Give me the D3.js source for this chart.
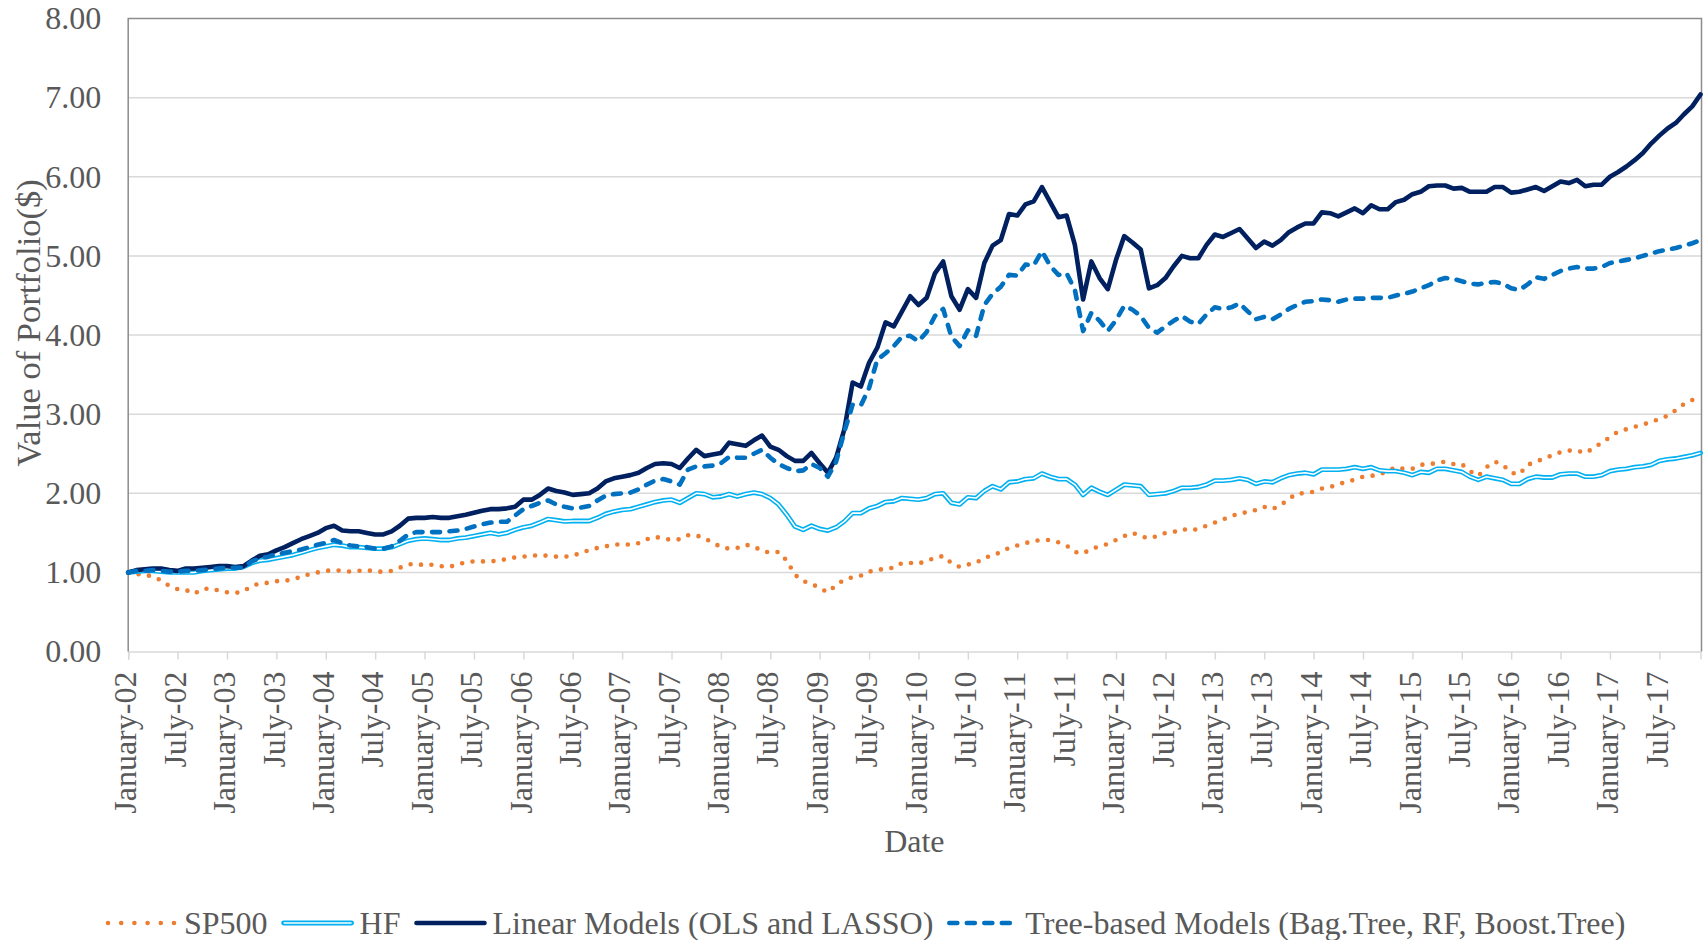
<!DOCTYPE html>
<html>
<head>
<meta charset="utf-8">
<script src="https://cdn.jsdelivr.net/npm/d3@7"></script>
<style>
  body { margin: 0; background: #fff; }
  text { font-family: "Liberation Serif", "Times New Roman", serif; }
</style>
</head>
<body>
<div id="chart"></div>
<script>
// monthly portfolio values, Jan 2002 .. Dec 2017 (192 months)
const sp500 = [
  1.00,0.98,0.97,0.95,0.90,0.83,0.79,0.78,0.73,0.79,
  0.80,0.77,0.75,0.74,0.76,0.83,0.86,0.87,0.89,0.89,
  0.92,0.94,0.98,1.00,1.02,1.03,1.02,1.01,1.02,1.03,
  1.01,1.01,1.02,1.06,1.10,1.11,1.09,1.10,1.08,1.07,
  1.10,1.13,1.14,1.14,1.14,1.15,1.17,1.19,1.20,1.21,
  1.22,1.21,1.20,1.20,1.21,1.25,1.28,1.31,1.33,1.35,
  1.36,1.35,1.37,1.42,1.45,1.43,1.41,1.42,1.47,1.47,
  1.43,1.38,1.32,1.30,1.31,1.35,1.33,1.27,1.25,1.26,
  1.15,0.97,0.89,0.86,0.80,0.75,0.84,0.91,0.94,0.96,
  1.01,1.03,1.05,1.06,1.12,1.12,1.11,1.15,1.18,1.21,
  1.12,1.07,1.10,1.12,1.19,1.21,1.26,1.31,1.34,1.37,
  1.40,1.41,1.41,1.38,1.34,1.26,1.24,1.30,1.33,1.36,
  1.41,1.46,1.50,1.46,1.43,1.46,1.50,1.51,1.55,1.53,
  1.55,1.59,1.63,1.67,1.71,1.75,1.76,1.79,1.83,1.80,
  1.85,1.93,2.00,2.00,2.02,2.06,2.08,2.11,2.15,2.17,
  2.21,2.22,2.24,2.28,2.33,2.31,2.31,2.36,2.37,2.38,
  2.40,2.37,2.37,2.28,2.22,2.33,2.40,2.36,2.26,2.24,
  2.36,2.40,2.44,2.48,2.52,2.54,2.54,2.51,2.57,2.64,
  2.71,2.78,2.81,2.84,2.87,2.90,2.94,2.98,3.05,3.13,
  3.18,3.23
];
const hf = [
  1.00,1.01,1.02,1.02,1.01,1.00,1.00,1.00,1.00,1.02,
  1.03,1.04,1.05,1.05,1.07,1.12,1.15,1.16,1.18,1.20,
  1.22,1.25,1.28,1.31,1.33,1.35,1.34,1.32,1.32,1.31,
  1.30,1.30,1.32,1.36,1.40,1.42,1.43,1.42,1.41,1.41,
  1.43,1.44,1.46,1.48,1.50,1.48,1.50,1.54,1.57,1.59,
  1.63,1.675,1.66,1.645,1.65,1.65,1.65,1.69,1.74,1.77,
  1.79,1.80,1.83,1.86,1.89,1.91,1.92,1.88,1.94,2.00,
  1.99,1.95,1.96,1.99,1.96,1.99,2.01,1.99,1.94,1.86,
  1.73,1.58,1.54,1.59,1.55,1.53,1.57,1.645,1.75,1.75,
  1.81,1.84,1.89,1.90,1.94,1.93,1.92,1.94,1.99,2.00,
  1.88,1.86,1.95,1.94,2.03,2.09,2.05,2.14,2.15,2.18,
  2.19,2.25,2.21,2.18,2.18,2.11,1.98,2.07,2.02,1.98,
  2.045,2.11,2.10,2.09,1.98,1.99,2.00,2.03,2.07,2.07,
  2.08,2.11,2.16,2.16,2.17,2.19,2.17,2.12,2.15,2.14,
  2.19,2.23,2.25,2.26,2.24,2.30,2.30,2.30,2.31,2.33,
  2.31,2.33,2.29,2.28,2.28,2.26,2.23,2.27,2.26,2.31,
  2.31,2.29,2.27,2.21,2.17,2.21,2.19,2.17,2.12,2.12,
  2.18,2.21,2.20,2.20,2.24,2.25,2.25,2.21,2.21,2.23,
  2.28,2.30,2.31,2.33,2.34,2.36,2.41,2.43,2.44,2.46,
  2.48,2.51
];
const linear = [
  1.00,1.03,1.04,1.05,1.05,1.03,1.02,1.05,1.05,1.06,
  1.07,1.08,1.08,1.07,1.08,1.15,1.21,1.23,1.28,1.32,
  1.37,1.42,1.46,1.50,1.56,1.59,1.53,1.52,1.52,1.50,
  1.48,1.48,1.52,1.59,1.68,1.69,1.69,1.70,1.69,1.69,
  1.71,1.73,1.755,1.78,1.80,1.80,1.81,1.83,1.92,1.92,
  1.98,2.06,2.03,2.01,1.98,1.99,2.00,2.06,2.15,2.19,
  2.21,2.23,2.26,2.32,2.37,2.38,2.37,2.32,2.44,2.55,
  2.47,2.49,2.51,2.64,2.62,2.60,2.67,2.73,2.59,2.55,
  2.47,2.41,2.41,2.51,2.38,2.26,2.45,2.81,3.40,3.35,
  3.65,3.84,4.16,4.11,4.30,4.49,4.38,4.47,4.78,4.93,
  4.49,4.32,4.58,4.47,4.91,5.13,5.20,5.53,5.51,5.65,
  5.69,5.87,5.68,5.49,5.51,5.14,4.45,4.93,4.72,4.58,
  4.95,5.25,5.17,5.08,4.59,4.63,4.72,4.87,5.00,4.97,
  4.97,5.14,5.27,5.24,5.29,5.34,5.22,5.10,5.18,5.13,
  5.20,5.30,5.36,5.41,5.41,5.55,5.54,5.50,5.55,5.60,
  5.54,5.64,5.59,5.59,5.68,5.71,5.78,5.81,5.88,5.89,
  5.89,5.85,5.86,5.81,5.81,5.81,5.87,5.87,5.80,5.81,
  5.84,5.87,5.82,5.88,5.94,5.92,5.96,5.88,5.90,5.90,
  6.00,6.06,6.13,6.21,6.30,6.42,6.52,6.61,6.68,6.79,
  6.89,7.04
];
const tree = [
  1.00,1.02,1.02,1.03,1.02,1.01,1.01,1.02,1.02,1.03,
  1.04,1.05,1.06,1.06,1.06,1.14,1.18,1.20,1.23,1.25,
  1.27,1.29,1.32,1.35,1.375,1.41,1.37,1.34,1.33,1.32,
  1.30,1.30,1.33,1.40,1.48,1.51,1.51,1.51,1.51,1.52,
  1.53,1.55,1.58,1.61,1.63,1.64,1.64,1.72,1.80,1.84,
  1.88,1.91,1.86,1.83,1.81,1.82,1.84,1.91,1.97,1.99,
  2.00,2.01,2.05,2.11,2.16,2.18,2.15,2.11,2.30,2.34,
  2.34,2.35,2.38,2.46,2.45,2.45,2.50,2.55,2.45,2.37,
  2.32,2.28,2.29,2.37,2.32,2.21,2.40,2.78,3.12,3.11,
  3.33,3.69,3.77,3.86,3.98,3.99,3.92,4.04,4.24,4.33,
  3.98,3.86,4.06,3.99,4.38,4.52,4.61,4.76,4.75,4.89,
  4.88,5.06,4.875,4.76,4.78,4.57,4.05,4.28,4.18,4.05,
  4.19,4.37,4.32,4.24,4.09,4.03,4.11,4.18,4.24,4.17,
  4.14,4.26,4.35,4.33,4.35,4.40,4.30,4.20,4.23,4.20,
  4.26,4.33,4.38,4.42,4.43,4.45,4.44,4.42,4.45,4.46,
  4.46,4.47,4.47,4.47,4.50,4.52,4.55,4.59,4.63,4.69,
  4.72,4.71,4.68,4.65,4.64,4.66,4.67,4.65,4.59,4.57,
  4.64,4.73,4.71,4.76,4.81,4.84,4.86,4.84,4.84,4.86,
  4.91,4.93,4.95,4.97,5.00,5.03,5.06,5.08,5.10,5.13,
  5.16,5.20
];
const seriesNames = ["SP500", "HF", "Linear Models (OLS and LASSO)", "Tree-based Models (Bag.Tree, RF, Boost.Tree)"];
const yTicks = [0, 1, 2, 3, 4, 5, 6, 7, 8];
const months = d3.timeMonths(new Date(2002, 0, 1), new Date(2018, 0, 1));
const xTicks = d3.range(0, months.length, 6);

const W = 1703, H = 940;
const plot = {left: 128.2, right: 1700.5, top: 18.5, bottom: 651.6};
const textCol = "#595959";

const svg = d3.select("#chart").append("svg")
    .attr("width", W)
    .attr("height", H);

const x = d3.scaleLinear().domain([0, months.length - 1]).range([plot.left, plot.right]);
const y = d3.scaleLinear().domain([0, 8]).range([plot.bottom, plot.top]);

// gridlines
svg.append("g")
    .selectAll("line")
    .data(yTicks.filter(v => v > 0 && v < 8))
    .join("line")
    .attr("x1", plot.left).attr("x2", plot.right + 1)
    .attr("y1", d => y(d)).attr("y2", d => y(d))
    .attr("stroke", "#d9d9d9")
    .attr("stroke-width", 1.5);

// x axis
const fmt = d3.timeFormat("%B-%y");
const gx = svg.append("g")
    .attr("transform", `translate(0,${plot.bottom})`)
    .call(d3.axisBottom(x).tickValues(xTicks).tickSize(8).tickFormat(i => fmt(months[i])));
gx.select(".domain").attr("stroke", "#d9d9d9").attr("stroke-width", 1.5);
gx.selectAll(".tick line").attr("stroke", "#d9d9d9").attr("stroke-width", 1.5);
gx.selectAll("text")
    .attr("transform", "rotate(-90)")
    .attr("text-anchor", "end")
    .attr("x", -20)
    .attr("y", 0)
    .attr("dy", "0.24em")
    .attr("fill", textCol)
    .style("font-size", "32px")
    .style("font-family", "Liberation Serif");

// y axis labels
const gy = svg.append("g")
    .attr("transform", `translate(${plot.left},0)`)
    .call(d3.axisLeft(y).tickValues(yTicks).tickFormat(d3.format(".2f")).tickSize(0).tickPadding(27));
gy.select(".domain").remove();
gy.selectAll("text")
    .attr("fill", textCol)
    .style("font-size", "32px")
    .style("font-family", "Liberation Serif");

// plot border (left, top, right)
svg.append("path")
    .attr("d", `M${plot.left},${plot.bottom}V${plot.top}H${plot.right + 1}V${plot.bottom}`)
    .attr("fill", "none")
    .attr("stroke", "#8c8c8c")
    .attr("stroke-width", 1.5);

// axis titles
svg.append("text")
    .attr("transform", "translate(40,323) rotate(-90)")
    .attr("text-anchor", "middle")
    .attr("fill", textCol)
    .style("font-size", "34.5px")
    .text("Value of Portfolio($)");

svg.append("text")
    .attr("x", (plot.left + plot.right) / 2)
    .attr("y", 852)
    .attr("text-anchor", "middle")
    .attr("fill", textCol)
    .style("font-size", "32px")
    .text("Date");

// series
const line = d3.line().x((d, i) => x(i)).y(d => y(d));
const styles = [
  {data: sp500, color: "#ED7D31", width: 4.6, dash: "0 10.5"},
  {data: hf, color: "#00B0F0", width: 4.8, dash: null, double: true},
  {data: linear, color: "#002060", width: 4.6, dash: null},
  {data: tree, color: "#0070C0", width: 4.6, dash: "8 9.5"}
];

styles.forEach(s => {
  svg.append("path")
      .datum(s.data)
      .attr("fill", "none")
      .attr("stroke", s.color)
      .attr("stroke-width", s.width)
      .attr("stroke-linejoin", "round")
      .attr("stroke-linecap", "round")
      .attr("stroke-dasharray", s.dash)
      .attr("d", line);
  if (s.double) {
    svg.append("path")
        .datum(s.data)
        .attr("fill", "none")
        .attr("stroke", "#fff")
        .attr("stroke-width", 1.6)
        .attr("stroke-linejoin", "round")
        .attr("d", line);
  }
});

// legend
const legend = svg.append("g").attr("transform", "translate(0,923)");
let lx = 108;
styles.forEach((s, k) => {
  legend.append("line")
      .attr("x1", lx).attr("x2", lx + 68)
      .attr("y1", 0).attr("y2", 0)
      .attr("stroke", s.color)
      .attr("stroke-width", s.width)
      .attr("stroke-linecap", "round")
      .attr("stroke-dasharray", s.dash ? (k === 0 ? "0 13.2" : "8 9.5") : null);
  if (s.double) {
    legend.append("line")
        .attr("x1", lx).attr("x2", lx + 68)
        .attr("y1", 0).attr("y2", 0)
        .attr("stroke", "#fff")
        .attr("stroke-width", 1.6);
  }
  const t = legend.append("text")
      .attr("x", lx + 76)
      .attr("y", 10.5)
      .attr("fill", textCol)
      .style("font-size", "32px")
      .text(seriesNames[k]);
  lx += 76 + t.node().getComputedTextLength() + 16;
});
</script>
</body>
</html>
